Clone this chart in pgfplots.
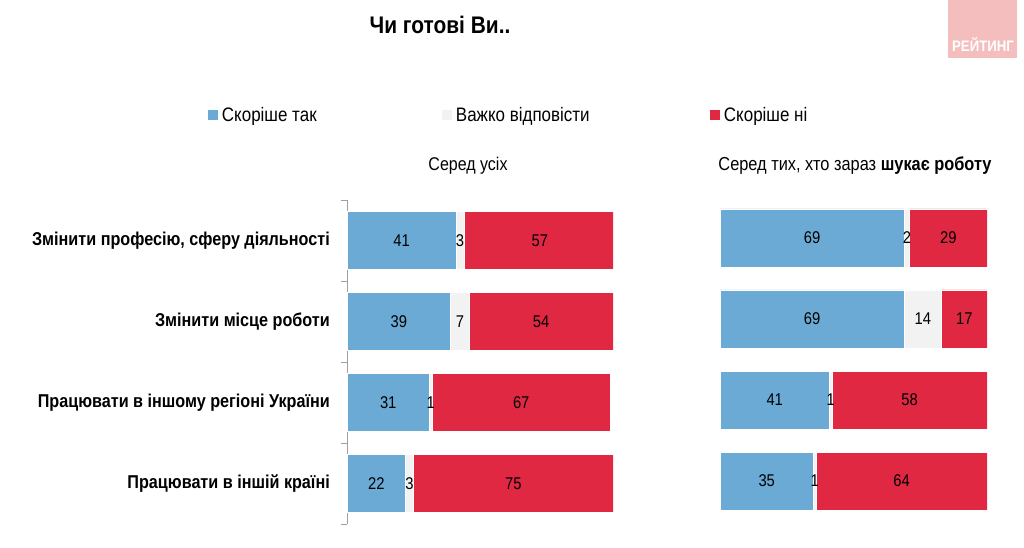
\documentclass[border=0pt]{standalone}
\usepackage{pgfplots}
\usepackage{pgfplotstable}
\pgfplotsset{compat=1.18}
\usepackage{fontspec}
\setmainfont{Liberation Sans}[FakeStretch=0.87]
\definecolor{cblue}{RGB}{106,170,212}
\definecolor{cgray}{RGB}{242,242,242}
\definecolor{cred}{RGB}{224,40,66}
\definecolor{cpink}{RGB}{244,190,190}
\definecolor{caxis}{RGB}{160,160,160}

\pgfplotstableread{
cat tak vazhko ni
0 41 3 57
1 39 7 54
2 31 1 67
3 22 3 75
}\allt
\pgfplotstableread{
cat tak vazhko ni
0 69 2 29
1 69 14 17
2 41 1 58
3 35 1 64
}\shukt

\pgfplotsset{
  sq legend/.style={legend image code/.code={\path[##1,draw=none] (0pt,-5pt) rectangle (10pt,5pt);}},
  panel/.style={scale only axis, anchor=north west, height=324pt,
    xmin=0, xmax=100, ymin=-0.5, ymax=3.5, y dir=reverse},
  barpanel/.style={panel, xbar stacked, bar width=58pt},
  lblpanel/.style={panel, hide axis},
  lbl/.style={only marks, mark=none,
    nodes near coords={\pgfplotspointmeta}, point meta=explicit symbolic,
    every node near coord/.style={anchor=center, inner sep=0pt, font=\fontsize{17}{20}\selectfont, text=black}},
}

\begin{document}
\begin{tikzpicture}
\useasboundingbox (0,0) rectangle (1024pt,548pt);
% logo
\fill[cpink] (948pt,490pt) rectangle (1017pt,548pt);
\node[text=white, font=\bfseries\fontsize{15.2}{17}\selectfont, inner sep=0pt] at (983pt,503pt) {РЕЙТИНГ};
% title
\node[font=\bfseries\fontsize{24}{28}\selectfont, inner sep=0pt] at (440pt,523pt) {Чи готові Ви..};
% panel titles
\node[font=\fontsize{18.4}{22}\selectfont, inner sep=0pt] at (468pt,382pt) {Серед усіх};
\node[font=\fontsize{18.8}{22}\selectfont, inner sep=0pt] at (855pt,382pt) {Серед тих, хто зараз \textbf{шукає роботу}};

% left panel bars
\begin{axis}[barpanel, at={(347pt,348pt)}, width=266pt,
  axis x line=none, axis y line*=left,
  axis line style={caxis, line width=0.8pt},
  ytick={0,1,2,3}, major tick length=0pt,
  minor ytick={-0.5,0.5,1.5,2.5,3.5}, minor tick length=6pt,
  ytick align=outside, tick style={caxis, line width=0.8pt},
  yticklabels={Змінити професію{,} сферу діяльності, Змінити місце роботи, Працювати в іншому регіоні України, Працювати в іншій країні},
  yticklabel style={font=\bfseries\fontsize{18.6}{22}\selectfont, inner sep=0pt, xshift=-17pt},
  legend columns=3,
  legend style={at={(axis description cs:-0.5226,1.2623)}, anchor=west, draw=none, fill=none,
    inner sep=0pt, outer sep=0pt, font=\fontsize{19.5}{23}\selectfont,
    /tikz/every odd column/.style={column sep=2pt}},
]
\addplot[fill=cblue, draw=white, line width=0.5pt, sq legend] table[x=tak, y=cat] {\allt};
\addlegendentry{\makebox[218pt][l]{Скоріше так}}
\addplot[fill=cgray, draw=white, line width=0.5pt, sq legend] table[x=vazhko, y=cat] {\allt};
\addlegendentry{\makebox[252pt][l]{Важко відповісти}}
\addplot[fill=cred, draw=white, line width=0.5pt, sq legend] table[x=ni, y=cat] {\allt};
\addlegendentry{Скоріше ні}
\end{axis}
\begin{axis}[lblpanel, at={(347pt,348pt)}, width=266pt]
\addplot[lbl] table[x expr=\thisrow{tak}/2, y=cat, meta=tak] {\allt};
\addplot[lbl] table[x expr=\thisrow{tak}+\thisrow{vazhko}/2, y=cat, meta=vazhko] {\allt};
\addplot[lbl] table[x expr=\thisrow{tak}+\thisrow{vazhko}+\thisrow{ni}/2, y=cat, meta=ni] {\allt};
\end{axis}

% right panel
\begin{axis}[barpanel, hide axis, at={(720pt,350.5pt)}, width=267pt]
\addplot[fill=cblue, draw=white, line width=0.5pt] table[x=tak, y=cat] {\shukt};
\addplot[fill=cgray, draw=white, line width=0.5pt] table[x=vazhko, y=cat] {\shukt};
\addplot[fill=cred, draw=white, line width=0.5pt] table[x=ni, y=cat] {\shukt};
\end{axis}
\begin{axis}[lblpanel, at={(720pt,350.5pt)}, width=267pt]
\addplot[lbl] table[x expr=\thisrow{tak}/2, y=cat, meta=tak] {\shukt};
\addplot[lbl] table[x expr=\thisrow{tak}+\thisrow{vazhko}/2, y=cat, meta=vazhko] {\shukt};
\addplot[lbl] table[x expr=\thisrow{tak}+\thisrow{vazhko}+\thisrow{ni}/2, y=cat, meta=ni] {\shukt};
\end{axis}
\end{tikzpicture}
\end{document}
